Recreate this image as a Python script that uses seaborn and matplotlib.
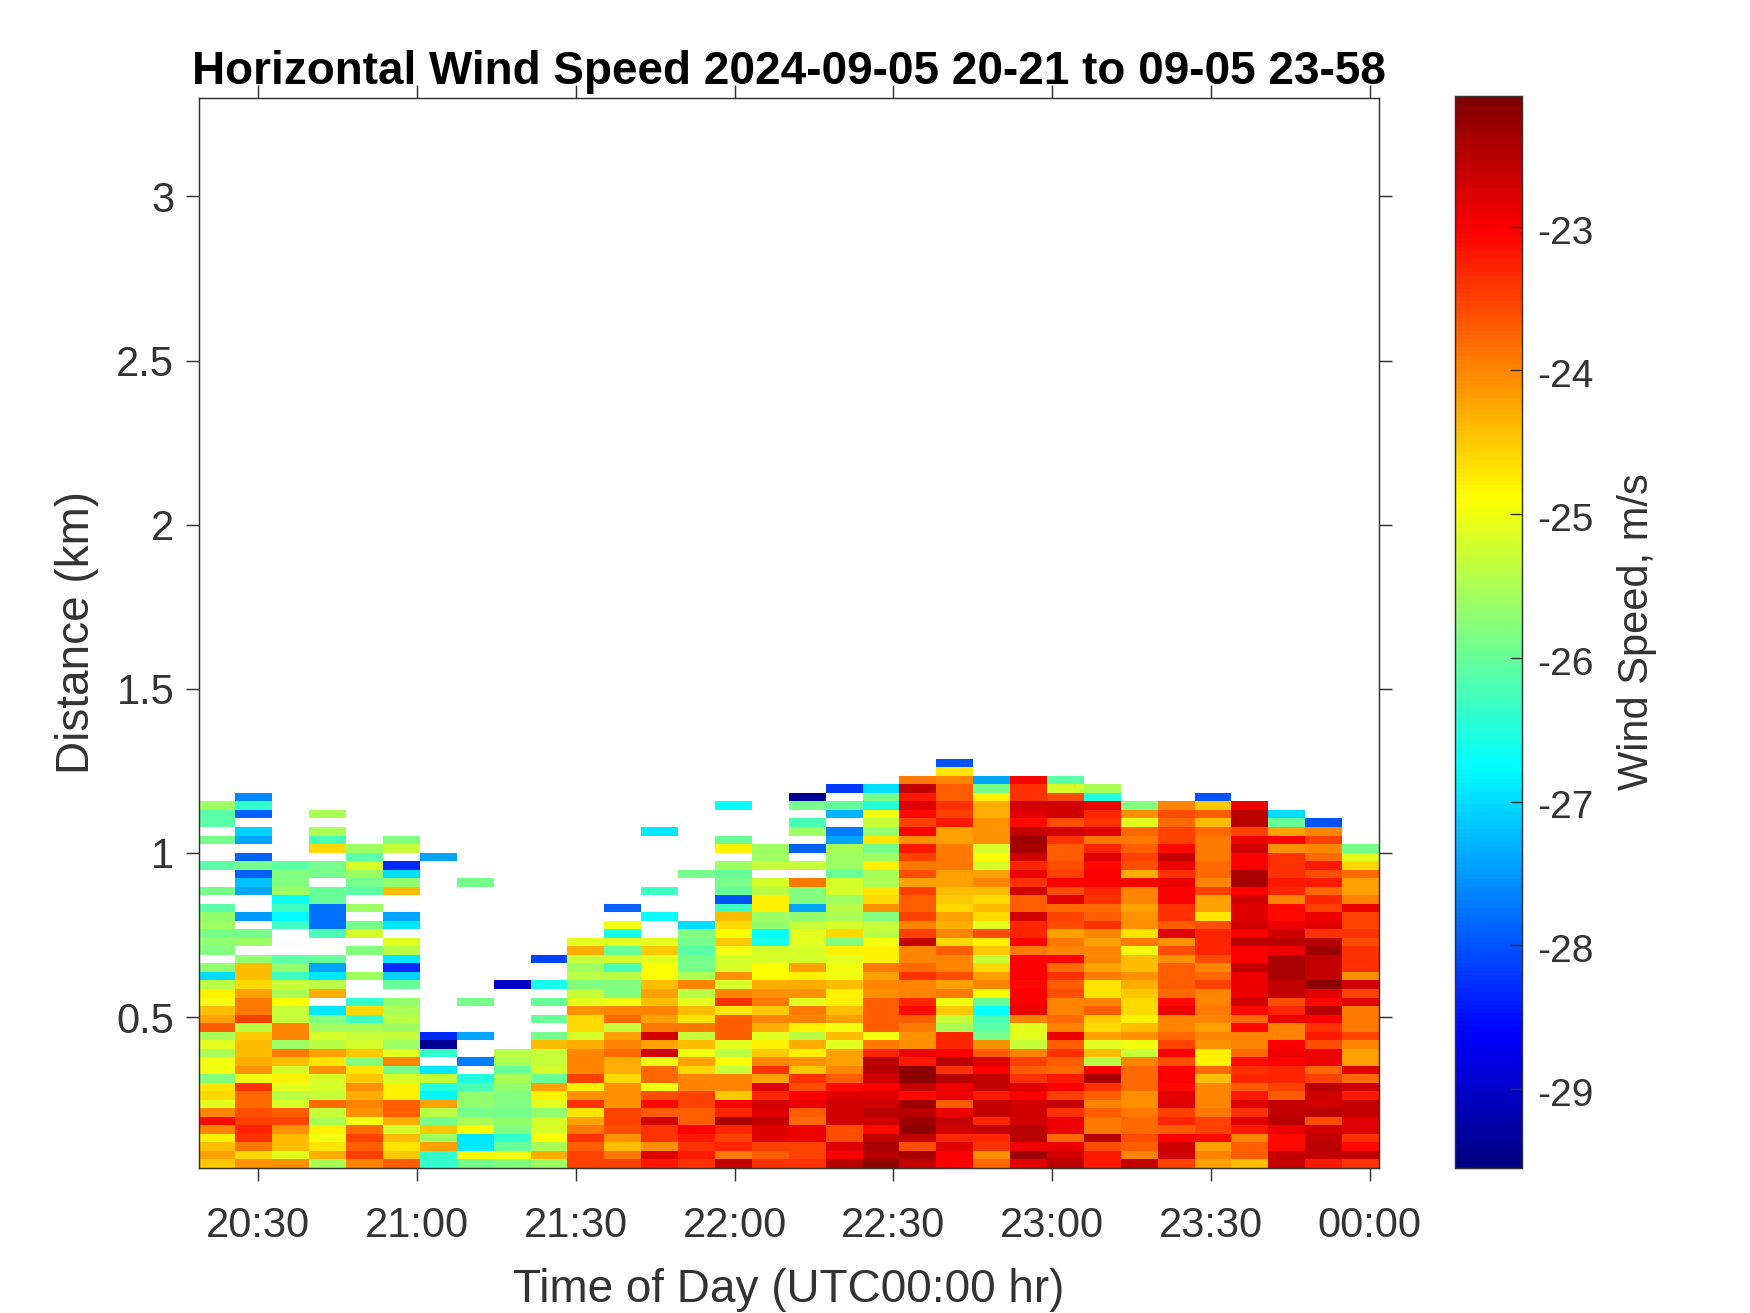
import numpy as np
import pandas as pd
import matplotlib
matplotlib.use("Agg")
import matplotlib.pyplot as plt
from matplotlib.colors import LinearSegmentedColormap
from matplotlib.transforms import ScaledTranslation
import seaborn as sns

N = np.nan
col_01 = [-24.5,-24.2,-24.4,-24.8,-24.0,-23.1,-24.0,-25.1,-24.6,-24.7,-25.8,-25.0,-25.0,-25.5,-25.1,-25.5,-23.7,-24.2,-24.4,-25.0,-24.8,-25.4,-27.0,-25.7,N,-25.8,-25.7,-25.9,-25.6,-25.7,-26.1,N,-25.9,N,N,-26.1,N,N,-25.9,N,-26.1,-26.1,-25.6]
col_02 = [-24.1,-24.6,-23.9,-23.4,-23.3,-23.5,-23.6,-23.8,-23.8,-23.4,-25.0,-24.1,-24.3,-24.4,-24.4,-24.5,-25.4,-23.5,-23.9,-23.9,-24.2,-24.6,-24.4,-24.4,-25.7,N,-25.6,-25.9,N,-27.5,N,N,-27.4,-27.2,-27.9,-25.9,-27.9,N,-27.4,-27.1,N,-27.9,-26.4,-27.6]
col_03 = [-24.1,-25.1,-24.4,-24.4,-24.1,-23.5,-23.7,-25.2,-25.4,-25.1,-24.8,-25.2,-24.4,-23.9,-25.6,-24.0,-24.0,-25.3,-25.3,-24.9,-25.5,-25.3,-26.3,-25.7,-26.1,N,N,N,-26.3,-26.8,-26.3,-26.7,-25.6,-25.8,-25.8,-26.1]
col_04 = [-25.5,-24.3,-24.7,-25.0,-24.8,-25.5,-25.3,-23.8,-25.3,-25.2,-25.2,-24.1,-24.7,-24.2,-25.4,-25.2,-25.6,-25.8,-26.9,N,-24.3,-25.4,-26.9,-27.4,-26.0,N,N,-26.2,-27.8,-27.8,-27.8,-26.0,-26.0,N,-25.9,-25.9,N,-24.6,-26.2,-25.5,N,-25.5]
col_05 = [-24.0,-23.5,-23.7,-23.5,-23.8,-25.0,-24.1,-24.0,-24.3,-24.1,-24.5,-24.7,-25.8,-24.5,-25.2,-25.3,-25.5,-26.3,-24.6,-26.4,N,N,-25.6,N,N,-25.8,N,-25.2,-25.9,N,-25.6,N,-26.1,-25.9,-25.6,-25.2,-26.1,-25.6]
col_06 = [-23.7,-24.5,-24.7,-24.4,-25.2,-24.3,-23.7,-23.7,-24.8,-24.8,-25.2,-25.9,-24.0,-25.1,-25.6,-25.3,-25.6,-25.4,-25.5,-25.7,N,-26.0,-27.1,-28.3,-26.9,-25.4,-25.1,N,-26.9,-27.4,N,N,-24.4,-25.7,-27.0,-28.3,N,-25.3,-25.8]
col_07 = [-26.4,-26.4,-24.2,-25.6,-24.5,-25.9,-25.4,-24.2,-26.8,-26.5,-25.3,-26.9,N,-26.4,-29.4,-28.3,N,N,N,N,N,N,N,N,N,N,N,N,N,N,N,N,N,N,N,N,-27.4]
col_08 = [-25.9,-24.9,-26.9,-26.9,-24.9,-25.5,-25.9,-25.7,-25.7,-26.2,-26.5,N,-27.7,N,N,-27.4,N,N,N,-25.9,N,N,N,N,N,N,N,N,N,N,N,N,N,-25.9]
col_09 = [-25.8,-25.0,-26.0,-26.4,-25.8,-25.7,-25.9,-25.8,-25.8,-25.7,-25.5,-26.0,-25.5,-25.4,N,N,N,N,N,N,N,-29.0]
col_10 = [-25.6,-24.3,-25.5,-24.9,-25.2,-25.2,-25.7,-25.1,-24.8,-24.2,-26.0,-25.2,-25.3,-25.3,-24.4,-25.9,N,-26.0,N,-26.0,N,-26.6,N,N,-28.1]
col_11 = [-23.5,-23.5,-23.7,-23.4,-23.9,-24.2,-24.7,-23.4,-24.1,-24.8,-23.5,-24.0,-24.0,-24.0,-24.3,-25.2,-24.6,-24.6,-24.1,-25.1,-25.3,-25.8,-25.4,-25.6,-25.3,-24.3,-25.1]
col_12 = [-23.5,-23.9,-24.4,-24.1,-23.6,-23.5,-23.5,-24.1,-24.1,-24.1,-24.6,-24.3,-24.3,-23.8,-24.0,-24.2,-25.3,-23.8,-24.0,-25.0,-25.8,-25.8,-25.4,-26.2,-25.2,-26.0,-25.1,-26.6,-25.0,N,-27.9]
col_13 = [-23.2,-22.8,-24.1,-23.4,-23.4,-22.7,-23.7,-23.1,-23.6,-25.0,-23.8,-23.8,-25.0,-22.7,-24.2,-22.7,-23.9,-24.2,-24.0,-24.4,-24.2,-24.4,-24.9,-24.9,-25.1,-24.5,-25.1,N,N,-26.7,N,N,-26.3,N,N,N,N,N,N,-26.9]
col_14 = [-23.4,-23.2,-23.4,-23.2,-23.0,-23.7,-23.7,-23.5,-23.5,-24.0,-24.0,-24.6,-24.2,-25.0,-24.4,-25.3,-23.9,-24.7,-24.4,-25.1,-25.4,-24.0,-25.5,-25.9,-25.9,-26.1,-25.9,-25.8,-27.0,N,N,N,N,N,-25.9]
col_15 = [-22.6,-23.9,-23.3,-23.5,-23.3,-22.4,-23.3,-23.0,-24.5,-24.0,-24.0,-25.3,-24.9,-25.4,-25.1,-23.7,-23.7,-23.7,-24.7,-23.4,-24.0,-25.2,-24.1,-25.2,-25.2,-25.0,-24.5,-24.9,-24.6,-24.4,-26.3,-28.0,-26.0,-25.9,-26.0,-25.6,N,-24.8,-26.0,N,N,N,-26.7]
col_16 = [-23.4,-23.7,-23.5,-22.8,-22.8,-22.6,-22.8,-22.7,-23.3,-22.8,-24.2,-23.4,-24.0,-24.5,-24.8,-25.1,-24.3,-24.0,-24.5,-23.9,-24.1,-24.3,-24.9,-24.9,-25.2,-25.2,-26.6,-26.7,-25.7,-25.6,-24.8,-24.8,-25.4,-25.2,N,-25.3,-25.6,-25.6]
col_17 = [-23.4,-23.5,-23.5,-22.9,-22.9,-23.8,-23.7,-22.9,-23.0,-23.6,-23.4,-24.5,-24.1,-24.8,-24.3,-25.4,-24.8,-24.0,-23.9,-25.1,-24.1,-24.3,-24.8,-24.2,-25.2,-25.2,-25.1,-25.1,-25.3,-25.7,-27.4,-25.8,-25.8,-23.9,N,-25.3,N,-27.9,N,-25.6,-26.2,N,-25.9,-29.4]
col_18 = [-22.5,-23.0,-22.8,-23.6,-23.6,-22.7,-22.7,-22.7,-22.8,-23.1,-23.7,-24.0,-24.2,-24.2,-25.1,-24.4,-25.0,-24.2,-24.4,-24.8,-24.8,-24.4,-25.0,-25.0,-25.1,-24.8,-25.8,-24.6,-25.2,-25.5,-25.4,-25.6,-25.2,-25.2,-26.0,-25.6,-25.6,-25.5,-27.4,-27.7,N,-27.3,-26.0,N,-28.2]
col_19 = [-22.2,-22.5,-22.4,-22.6,-23.1,-22.7,-22.5,-22.7,-22.8,-23.0,-22.7,-22.5,-22.5,-23.3,-23.9,-25.0,-23.7,-23.7,-23.7,-23.7,-24.1,-24.0,-24.2,-23.9,-24.8,-24.8,-25.0,-25.4,-25.3,-25.8,-24.1,-24.6,-24.7,-25.5,-25.5,-24.8,-25.6,-25.9,-24.7,-25.7,-25.3,-25.0,-26.5,-25.9,-27.0]
col_20 = [-22.6,-22.4,-23.6,-22.6,-22.2,-22.3,-22.5,-22.3,-23.1,-22.6,-22.2,-22.2,-23.2,-22.9,-24.1,-24.1,-23.9,-23.7,-23.1,-23.3,-24.0,-24.0,-23.4,-23.8,-24.0,-24.0,-22.6,-23.5,-24.0,-23.5,-23.7,-23.7,-23.5,-24.2,-23.6,-23.9,-23.5,-23.2,-24.1,-23.0,-23.5,-23.1,-22.8,-23.2,-22.6,-23.9]
col_21 = [-23.0,-23.0,-22.8,-23.3,-22.7,-22.6,-22.9,-23.7,-22.9,-22.9,-22.5,-23.4,-22.5,-23.0,-23.3,-23.3,-25.5,-25.3,-24.5,-25.0,-23.9,-24.2,-23.6,-24.0,-24.0,-23.7,-24.6,-24.0,-24.3,-24.2,-24.6,-24.5,-24.4,-24.2,-24.2,-23.9,-23.9,-23.9,-24.2,-24.2,-23.2,-23.5,-23.4,-23.7,-23.7,-24.0,-24.7,-28.0]
col_22 = [-23.8,-24.1,-23.4,-23.3,-22.6,-23.3,-22.6,-22.6,-23.2,-22.6,-22.6,-23.0,-22.8,-23.7,-24.1,-25.9,-26.1,-26.2,-26.7,-26.0,-24.9,-24.0,-24.2,-24.6,-25.3,-24.5,-24.8,-23.6,-25.1,-24.6,-24.4,-24.6,-24.4,-24.0,-24.2,-25.2,-24.9,-25.2,-24.1,-24.1,-24.1,-24.3,-24.3,-24.8,-25.9,-27.4]
col_23 = [-22.8,-22.3,-22.9,-22.5,-22.5,-22.7,-22.7,-22.7,-23.0,-22.8,-23.4,-23.7,-23.5,-24.0,-25.3,-25.1,-25.1,-24.0,-22.9,-23.0,-23.0,-23.1,-23.0,-23.0,-23.0,-23.9,-23.0,-23.3,-23.3,-22.7,-23.7,-23.7,-22.7,-23.4,-22.9,-23.3,-22.7,-22.4,-22.3,-22.6,-23.1,-22.8,-22.7,-23.4,-23.4,-23.0]
col_24 = [-22.5,-22.7,-22.9,-23.8,-22.9,-22.9,-23.4,-22.6,-23.5,-23.0,-23.2,-23.8,-23.7,-23.4,-23.7,-22.9,-24.0,-23.8,-24.0,-24.0,-23.6,-23.7,-23.4,-23.8,-23.0,-24.0,-23.9,-24.2,-23.6,-23.5,-23.8,-22.8,-23.6,-23.0,-23.5,-23.6,-23.7,-23.7,-23.4,-22.7,-23.6,-22.7,-22.7,-23.6,-25.2,-26.1]
col_25 = [-23.2,-23.2,-23.6,-22.5,-23.9,-23.9,-23.7,-24.0,-23.7,-23.4,-22.4,-23.0,-25.4,-24.4,-25.1,-24.2,-24.6,-24.5,-23.7,-24.0,-24.7,-24.7,-23.9,-24.2,-24.0,-24.0,-24.2,-24.0,-23.4,-23.7,-23.8,-23.4,-23.3,-23.0,-23.0,-23.1,-22.8,-23.3,-23.9,-22.8,-23.4,-23.3,-22.9,-26.5,-25.5]
col_26 = [-22.6,-24.0,-23.7,-23.6,-23.8,-23.8,-23.9,-24.1,-24.1,-23.8,-23.8,-23.8,-24.0,-25.3,-25.0,-24.1,-24.4,-24.8,-24.6,-24.6,-24.5,-24.3,-24.1,-24.4,-24.4,-25.0,-23.9,-24.7,-24.1,-24.1,-24.2,-24.0,-24.0,-23.0,-24.3,-23.6,-23.5,-23.7,-23.9,-23.8,-25.1,-24.1,-25.8]
col_27 = [-23.5,-22.7,-22.7,-23.0,-23.7,-23.3,-23.5,-22.8,-22.8,-23.1,-23.0,-23.0,-23.6,-23.0,-23.5,-23.8,-24.0,-24.0,-22.9,-23.1,-23.8,-23.7,-23.7,-23.7,-24.1,-23.6,-24.1,-22.8,-23.7,-23.4,-23.4,-23.0,-23.0,-22.9,-23.4,-22.9,-22.6,-23.1,-23.5,-23.5,-23.8,-23.6,-24.0]
col_28 = [-24.2,-24.0,-24.2,-23.1,-23.5,-23.5,-23.9,-24.0,-24.0,-24.0,-24.4,-23.8,-24.8,-24.8,-24.1,-24.0,-24.2,-24.0,-23.9,-24.0,-24.0,-23.5,-23.8,-24.0,-23.6,-23.3,-23.3,-23.3,-23.6,-24.7,-24.2,-24.2,-23.5,-24.0,-23.8,-23.8,-23.9,-23.9,-23.9,-23.8,-24.4,-23.7,-24.5,-28.0]
col_29 = [-24.4,-23.7,-23.7,-24.0,-23.2,-22.8,-23.4,-22.8,-23.2,-23.7,-23.3,-23.4,-23.1,-23.8,-24.0,-24.0,-23.1,-23.8,-23.1,-22.7,-22.9,-22.9,-22.9,-22.6,-23.0,-23.0,-22.5,-23.0,-22.7,-22.8,-22.8,-22.7,-23.0,-22.4,-22.4,-23.0,-23.0,-22.7,-22.9,-23.5,-22.5,-22.5,-22.9]
col_30 = [-22.6,-22.6,-23.1,-23.1,-22.9,-22.5,-22.6,-22.6,-23.7,-23.5,-23.3,-23.3,-23.0,-22.9,-23.0,-24.0,-24.0,-22.9,-23.3,-23.6,-22.6,-22.6,-22.4,-22.4,-22.4,-22.9,-22.5,-22.7,-22.9,-23.1,-23.1,-24.0,-23.3,-23.2,-23.4,-23.4,-23.4,-24.1,-23.0,-24.2,-26.0,-27.0]
col_31 = [-23.2,-22.6,-22.5,-22.6,-22.7,-23.6,-22.5,-22.7,-22.7,-22.5,-23.5,-23.8,-22.9,-22.9,-23.6,-23.2,-23.4,-23.0,-22.5,-23.1,-22.8,-22.2,-22.6,-22.6,-22.6,-22.3,-22.5,-23.4,-22.8,-22.9,-23.5,-23.3,-23.8,-23.2,-23.6,-23.2,-23.8,-24.0,-23.5,-24.0,-28.0]
col_32 = [-23.4,-22.6,-23.1,-23.4,-22.8,-22.8,-22.6,-22.6,-23.2,-22.7,-23.8,-22.8,-24.2,-24.2,-24.0,-23.5,-23.9,-23.9,-23.9,-22.8,-23.5,-22.7,-24.1,-23.4,-23.4,-23.4,-23.6,-23.4,-23.5,-23.5,-22.9,-24.0,-24.2,-24.2,-23.8,-24.6,-25.1,-25.9]

columns = [col_01,col_02,col_03,col_04,col_05,col_06,col_07,col_08,col_09,col_10,col_11,col_12,col_13,col_14,col_15,col_16,
           col_17,col_18,col_19,col_20,col_21,col_22,col_23,col_24,col_25,col_26,col_27,col_28,col_29,col_30,col_31,col_32]

time_ticks_min = [30, 60, 90, 120, 150, 180, 210, 240]   # minutes after 20:00
time_labels = ["20:30","21:00","21:30","22:00","22:30","23:00","23:30","00:00"]
dist_ticks = [0.5, 1, 1.5, 2, 2.5, 3]
dist_labels = ["0.5","1","1.5","2","2.5","3"]
cbar_ticks = [-29, -28, -27, -26, -25, -24, -23]
cbar_labels = ["-29","-28","-27","-26","-25","-24","-23"]
vmin, vmax = -29.55, -22.09

# bin geometry
t0_min = 18.72       # left edge of first column, minutes after 20:00
dt_min = 6.97        # column width
z0_km = 0.0403       # bottom edge of first row
dz_km = 0.02597      # row height
z_top = 3.30

n_rows = 48
table = np.full((n_rows, len(columns)), np.nan)
for j, c in enumerate(columns):
    table[:len(c), j] = c
frame = pd.DataFrame(table)

# MATLAB-style jet (anchors at 1/8, 3/8, 5/8, 7/8)
matlab_jet = LinearSegmentedColormap.from_list("matlab_jet", [
    (0.0, (0, 0, 0.5)), (0.125, (0, 0, 1)), (0.375, (0, 1, 1)),
    (0.625, (1, 1, 0)), (0.875, (1, 0, 0)), (1.0, (0.5, 0, 0))], N=256)

sns.set_theme(style="white")
plt.rcParams["font.family"] = ["Liberation Sans", "DejaVu Sans"]
dark = "#333333"
tick_len = 9.4
line_w = 1.05

W, H = 1750, 1313
fig = plt.figure(figsize=(W/100, H/100), dpi=100)
ax = fig.add_axes([198.5/W, 1-1168/H, (1379-198.5)/W, (1168-98)/H])
cax = fig.add_axes([1454.5/W, 1-1168/H, (1522-1454.5)/W, (1168-96)/H])

sns.heatmap(frame, ax=ax, cmap=matlab_jet, vmin=vmin, vmax=vmax, cbar=True, cbar_ax=cax,
            xticklabels=False, yticklabels=False, rasterized=True)

ax.set_xlim(0, len(columns))
ax.set_ylim(0, (z_top - z0_km)/dz_km)

for s in ax.spines.values():
    s.set_visible(True); s.set_color(dark); s.set_linewidth(line_w)

xt = [(m - t0_min)/dt_min for m in time_ticks_min]
yt = [(k - z0_km)/dz_km for k in dist_ticks]
ax.set_xticks(xt); ax.set_xticklabels(time_labels)
ax.set_yticks(yt); ax.set_yticklabels(dist_labels)
ax.tick_params(axis="both", which="major", direction="out", length=tick_len, width=line_w, color=dark,
               labelsize=30, labelcolor=dark,
               bottom=True, left=True, top=True, right=True, labeltop=False, labelright=False)
ax.tick_params(axis="x", pad=18.3)
ax.tick_params(axis="y", pad=8)

ax.set_xlabel("Time of Day (UTC00:00 hr)", fontsize=33, color=dark, labelpad=15.5)
ax.set_ylabel("Distance (km)", fontsize=33, color=dark, labelpad=12.5)
ax.set_title("Horizontal Wind Speed 2024-09-05 20-21 to 09-05 23-58",
             fontsize=33, fontweight="bold", color="black", pad=10, y=1.0)

cb = ax.collections[0].colorbar
cb.set_ticks(cbar_ticks); cb.set_ticklabels(cbar_labels)
cb.ax.set_axisbelow(False)
cb.ax.tick_params(direction="in", length=8.5, width=line_w, color=dark, labelsize=28, labelcolor=dark, pad=11, right=True)
shift = ScaledTranslation(0, -2/72, fig.dpi_scale_trans)
for lab in cb.ax.get_yticklabels():
    lab.set_transform(lab.get_transform() + shift)
cb.outline.set_visible(True); cb.outline.set_edgecolor(dark); cb.outline.set_linewidth(line_w)
cb.set_label("Wind Speed, m/s", fontsize=30, color=dark, labelpad=16.5)

fig.savefig("out.png", dpi=100)
